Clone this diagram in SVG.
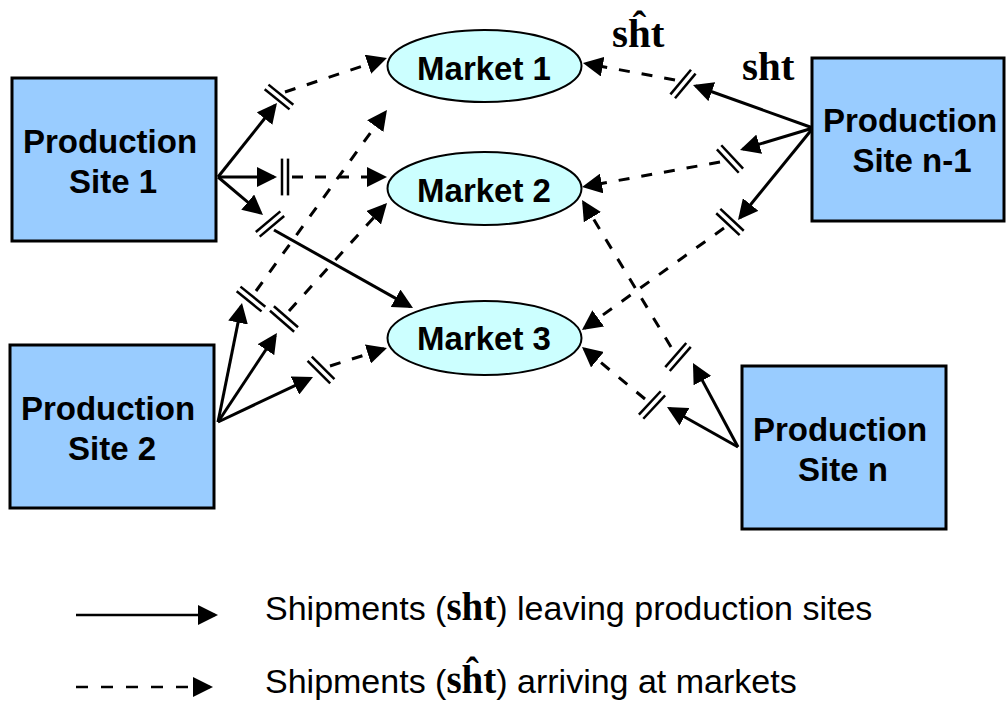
<svg xmlns="http://www.w3.org/2000/svg" xmlns:xlink="http://www.w3.org/1999/xlink" width="1006" height="711" viewBox="0 0 1006 711">
  <style>
    .site { fill: #99CCFF; stroke: #000; stroke-width: 3; }
    .market { fill: #CCFFFF; stroke: #000; stroke-width: 2; }
    .label { font-family: "Liberation Sans", Arial, sans-serif; font-weight: bold; font-size: 33px; fill: #000; text-anchor: middle; }
    .sym { font-family: "Liberation Serif", "Times New Roman", serif; font-weight: bold; fill: #000; }
    .legend { font-family: "Liberation Sans", Arial, sans-serif; font-size: 34px; fill: #000; }
    .solid { stroke: #000; stroke-width: 3; fill: none; marker-end: url(#ah); }
    .dash { stroke: #000; stroke-width: 3; fill: none; stroke-dasharray: 11 12; marker-end: url(#ah); }
    .bars line { stroke: #000; stroke-width: 2.5; }
  </style>
  <defs>
    <marker id="ah" markerUnits="userSpaceOnUse" markerWidth="20" markerHeight="20" viewBox="0 0 20 20" refX="17" refY="10" orient="auto">
      <path d="M0,0 L20,10 L0,20 z" fill="#000"/>
    </marker>
    <!-- double break mark drawn across a shipment route -->
    <g id="bars" class="bars">
      <line x1="-3" y1="-16" x2="-3" y2="16"/>
      <line x1="3" y1="-16" x2="3" y2="16"/>
    </g>
  </defs>

  <rect width="1006" height="711" fill="#fff"/>

  <!-- shipment routes -->
  <g id="connectors">
    <!-- Production Site 1 -->
    <line class="solid" x1="218" y1="177" x2="275.1" y2="105.3"/>
    <line class="dash" x1="285" y1="92" x2="384.1" y2="58.9"/>
    <use xlink:href="#bars" transform="translate(279,97) rotate(-51)"/>

    <line class="solid" x1="218" y1="177" x2="274" y2="177"/>
    <line class="dash" x1="292" y1="177" x2="384" y2="177"/>
    <use xlink:href="#bars" transform="translate(285,177) scale(1,1.15)"/>

    <line class="solid" x1="218" y1="177" x2="260.7" y2="213.1"/>
    <line class="solid" x1="274" y1="230" x2="410.4" y2="306.6"/>
    <use xlink:href="#bars" transform="translate(270,224) rotate(50)"/>

    <!-- Production Site 2 -->
    <line class="solid" x1="218" y1="422" x2="241.4" y2="305.9"/>
    <line class="dash" x1="256" y1="291" x2="385.2" y2="112.4"/>
    <use xlink:href="#bars" transform="translate(251,299) rotate(-51)"/>

    <line class="solid" x1="218" y1="422" x2="275.3" y2="335.5"/>
    <line class="dash" x1="289" y1="311" x2="385" y2="205.2"/>
    <use xlink:href="#bars" transform="translate(284,319) rotate(-49)"/>

    <line class="solid" x1="218" y1="422" x2="310.3" y2="378.3"/>
    <line class="dash" x1="330" y1="366" x2="384.1" y2="348.8"/>
    <use xlink:href="#bars" transform="translate(321,370) rotate(-45)"/>

    <!-- Production Site n-1 -->
    <line class="solid" x1="813" y1="128" x2="695.8" y2="86"/>
    <line class="dash" x1="675" y1="80" x2="585.9" y2="63.5"/>
    <use xlink:href="#bars" transform="translate(683,84) rotate(40)"/>

    <line class="solid" x1="813" y1="128" x2="742.9" y2="149.1"/>
    <line class="dash" x1="720" y1="162" x2="585" y2="186.5"/>
    <use xlink:href="#bars" transform="translate(730,159) rotate(-43)"/>

    <line class="solid" x1="813" y1="128" x2="739.9" y2="217.7"/>
    <line class="dash" x1="724" y1="228" x2="584.4" y2="328.2"/>
    <use xlink:href="#bars" transform="translate(730,222) rotate(-47)"/>

    <!-- Production Site n -->
    <line class="solid" x1="738" y1="447" x2="694.4" y2="365.6"/>
    <line class="dash" x1="671" y1="347" x2="583.6" y2="202.6"/>
    <use xlink:href="#bars" transform="translate(678,357) rotate(41)"/>

    <line class="solid" x1="738" y1="447" x2="669.6" y2="408.5"/>
    <line class="dash" x1="645" y1="399" x2="584.3" y2="348.9"/>
    <use xlink:href="#bars" transform="translate(652,405) rotate(43)"/>
  </g>

  <!-- production sites -->
  <g id="site-1">
    <rect class="site" x="12" y="78" width="204" height="163"/>
    <text class="label" x="110" y="153">Production</text>
    <text class="label" x="113" y="193">Site 1</text>
  </g>
  <g id="site-2">
    <rect class="site" x="10" y="345" width="204" height="163"/>
    <text class="label" x="108" y="420">Production</text>
    <text class="label" x="112" y="460">Site 2</text>
  </g>
  <g id="site-n-1">
    <rect class="site" x="812" y="58" width="192" height="163"/>
    <text class="label" x="910" y="132">Production</text>
    <text class="label" x="912" y="172">Site n-1</text>
  </g>
  <g id="site-n">
    <rect class="site" x="742" y="366" width="204" height="163"/>
    <text class="label" x="840" y="441">Production</text>
    <text class="label" x="843" y="481">Site n</text>
  </g>

  <!-- markets -->
  <g id="market-1">
    <ellipse class="market" cx="484.5" cy="66" rx="97" ry="36"/>
    <text class="label" x="484" y="80">Market 1</text>
  </g>
  <g id="market-2">
    <ellipse class="market" cx="484.5" cy="188.5" rx="97" ry="36.5"/>
    <text class="label" x="484" y="202">Market 2</text>
  </g>
  <g id="market-3">
    <ellipse class="market" cx="484.5" cy="338" rx="97" ry="37"/>
    <text class="label" x="484" y="350">Market 3</text>
  </g>

  <!-- route quantity symbols -->
  <g id="symbols">
    <text class="sym" x="612" y="47" font-size="41">sĥt</text>
    <text class="sym" x="742" y="80" font-size="41">sht</text>
  </g>

  <!-- legend -->
  <g id="legend">
    <line x1="76" y1="615" x2="215" y2="615" stroke="#000" stroke-width="2.5" marker-end="url(#ah)"/>
    <line x1="76" y1="687" x2="210" y2="687" stroke="#000" stroke-width="2.5" stroke-dasharray="12 13" marker-end="url(#ah)"/>
    <text class="legend" x="265" y="620">Shipments (<tspan class="sym" font-size="39">sht</tspan>) leaving production sites</text>
    <text class="legend" x="265" y="693">Shipments (<tspan class="sym" font-size="39">sĥt</tspan>) arriving at markets</text>
  </g>
</svg>
